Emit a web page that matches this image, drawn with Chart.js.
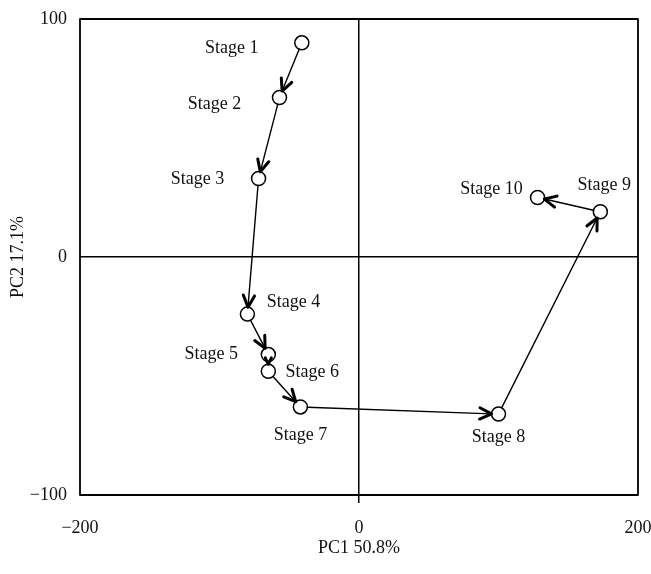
<!DOCTYPE html>
<html>
<head>
<meta charset="utf-8">
<script src="https://cdn.jsdelivr.net/npm/chart.js@4"></script>
<style>
  html, body { margin: 0; padding: 0; background: #ffffff; }
  #wrap { width: 651px; height: 574px; }
</style>
</head>
<body>
<div id="wrap"><canvas id="c" width="651" height="574"></canvas></div>
<script>
// ---- data ----
const stageLabels = ['Stage 1','Stage 2','Stage 3','Stage 4','Stage 5','Stage 6','Stage 7','Stage 8','Stage 9','Stage 10'];
const pc1Values = [-41, -57, -72, -80, -65, -65, -42, 100, 173, 128];
const pc2Values = [90, 67, 33, -24, -41, -48, -63, -66, 19, 25];
const xTickValues = [-200, 0, 200];
const yTickValues = [-100, 0, 100];
const xTitle = 'PC1 50.8%';
const yTitle = 'PC2 17.1%';

// ---- styling (not data) ----
const FONT = '"Liberation Serif", "Times New Roman", serif';
const labelOffsets = [
  [-70, 5], [-65, 7], [-61, 1], [46, -12], [-57, 0],
  [44, 1], [0, 28], [0, 23], [4, -27], [-46, -8]
];
const R = 7;

function fmt(v) { return v < 0 ? '\u2212' + Math.abs(v) : String(v); }

const points = pc1Values.map((x, i) => ({ x: x, y: pc2Values[i] }));

const overlayPlugin = {
  id: 'overlay',
  afterDatasetsDraw(chart) {
    const ctx = chart.ctx;
    const xs = chart.scales.x, ys = chart.scales.y;
    const px = points.map(p => ({ x: xs.getPixelForValue(p.x), y: ys.getPixelForValue(p.y) }));
    ctx.save();
    ctx.strokeStyle = '#000';
    ctx.lineCap = 'round';
    ctx.lineJoin = 'round';
    for (let i = 0; i < px.length - 1; i++) {
      const p = px[i], q = px[i + 1];
      const dx = q.x - p.x, dy = q.y - p.y;
      const len = Math.hypot(dx, dy);
      const ux = dx / len, uy = dy / len;
      const sx = p.x + ux * R, sy = p.y + uy * R;
      const ex = q.x - ux * R, ey = q.y - uy * R;
      ctx.lineWidth = 1.4;
      ctx.beginPath();
      ctx.moveTo(sx, sy);
      ctx.lineTo(ex, ey);
      ctx.stroke();
      // arrowhead (open chevron)
      const ah = len < 30 ? 7 : 13;
      const ang = Math.atan2(uy, ux);
      const spread = 0.45;
      ctx.lineWidth = 3;
      ctx.beginPath();
      ctx.moveTo(ex - ah * Math.cos(ang - spread), ey - ah * Math.sin(ang - spread));
      ctx.lineTo(ex, ey);
      ctx.lineTo(ex - ah * Math.cos(ang + spread), ey - ah * Math.sin(ang + spread));
      ctx.stroke();
    }
    // labels
    ctx.fillStyle = '#111';
    ctx.font = '18px ' + FONT;
    ctx.textAlign = 'center';
    ctx.textBaseline = 'middle';
    stageLabels.forEach((t, i) => {
      ctx.fillText(t, px[i].x + labelOffsets[i][0], px[i].y + labelOffsets[i][1]);
    });
    // frame box
    const a = chart.chartArea;
    ctx.lineWidth = 1.8;
    ctx.strokeStyle = '#000';
    ctx.lineCap = 'butt';
    ctx.strokeRect(a.left, a.top, a.right - a.left, a.bottom - a.top);
    ctx.restore();
  }
};

new Chart(document.getElementById('c'), {
  type: 'scatter',
  data: {
    datasets: [{
      data: points,
      showLine: false,
      pointRadius: R,
      pointHoverRadius: R,
      pointBackgroundColor: '#fff',
      pointBorderColor: '#000',
      pointBorderWidth: 1.5
    }]
  },
  options: {
    responsive: false,
    animation: false,
    events: [],
    layout: { padding: { left: 0, right: 13, top: 19, bottom: 0 } },
    plugins: { legend: { display: false }, tooltip: { enabled: false } },
    scales: {
      x: {
        type: 'linear',
        min: -200, max: 200,
        afterBuildTicks: s => { s.ticks = xTickValues.map(v => ({ value: v })); },
        afterFit: s => { s.height = 79; s.paddingLeft = 0; s.paddingRight = 0; },
        ticks: {
          callback: v => fmt(v),
          color: '#111',
          font: { family: FONT, size: 18 },
          padding: 14,
          maxRotation: 0,
          autoSkip: false
        },
        grid: {
          color: c => (c.tick && c.tick.value === 0) ? '#000' : 'rgba(0,0,0,0)',
          lineWidth: 1.5,
          drawTicks: true,
          tickLength: 8,
          tickColor: c => (c.tick && c.tick.value === 0) ? '#000' : 'rgba(0,0,0,0)',
          tickWidth: 1.5
        },
        border: { display: false },
        title: {
          display: true, text: xTitle, color: '#111',
          font: { family: FONT, size: 18 },
          padding: { top: 0, bottom: 15 }
        }
      },
      y: {
        type: 'linear',
        min: -100, max: 100,
        afterBuildTicks: s => { s.ticks = yTickValues.map(v => ({ value: v })); },
        afterFit: s => { s.width = 80; s.paddingTop = 0; s.paddingBottom = 0; },
        ticks: {
          callback: v => fmt(v),
          color: '#111',
          font: { family: FONT, size: 18 },
          padding: 13,
          autoSkip: false
        },
        grid: {
          color: c => (c.tick && c.tick.value === 0) ? '#000' : 'rgba(0,0,0,0)',
          lineWidth: 1.5,
          drawTicks: false
        },
        border: { display: false },
        title: {
          display: true, text: yTitle, color: '#111',
          font: { family: FONT, size: 18 },
          padding: { top: 7, bottom: 0 }
        }
      }
    }
  },
  plugins: [overlayPlugin]
});
</script>
</body>
</html>
